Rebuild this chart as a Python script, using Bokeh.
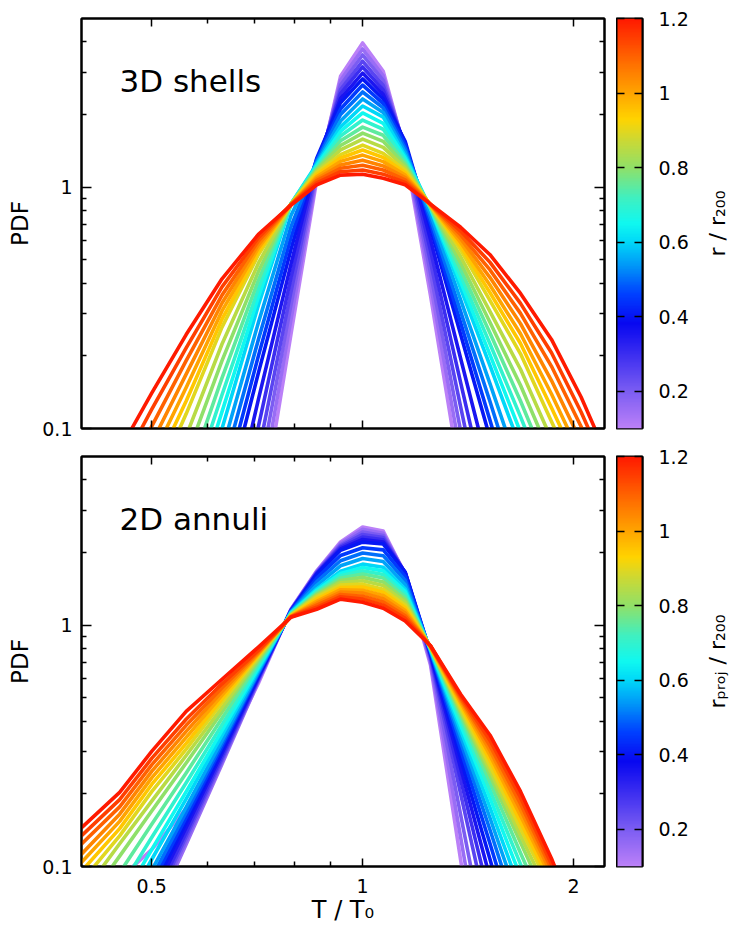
import numpy as np
from bokeh.plotting import figure
from bokeh.layouts import row, column
from bokeh.models import (LogAxis, LinearAxis, FixedTicker, Label, LinearColorMapper, Range1d,
                          CustomJSTickFormatter)
from bokeh.embed import file_html
from bokeh.resources import INLINE

nan = float("nan")
FONT = "DejaVu Sans"

# ---------------- data ----------------
t_over_t0 = [0.39, 0.45, 0.50, 0.56, 0.63, 0.71, 0.79, 0.86, 0.93, 1.00,
             1.07, 1.15, 1.25, 1.38, 1.52, 1.68, 1.86, 2.05, 2.26]
radii = [0.10, 0.15, 0.20, 0.25, 0.30, 0.35, 0.40, 0.45, 0.50, 0.55, 0.60, 0.65,
         0.70, 0.75, 0.80, 0.85, 0.90, 0.95, 1.00, 1.05, 1.10, 1.15, 1.20]

# 3D shells: PDF per radius (columns follow t_over_t0)
pdf3d_r010 = [nan, nan, nan, nan, nan, 0.0372, 0.245, 1.072, 2.88, 3.96, 3.02, 1.41, 0.355, 0.0617, nan, nan, nan, nan, nan]
pdf3d_r015 = [nan, nan, nan, nan, nan, 0.0479, 0.282, 1.109, 2.77, 3.74, 2.89, 1.435, 0.395, 0.0776, nan, nan, nan, nan, nan]
pdf3d_r020 = [nan, nan, nan, nan, nan, 0.0617, 0.324, 1.148, 2.65, 3.53, 2.77, 1.455, 0.44, 0.0977, nan, nan, nan, nan, nan]
pdf3d_r025 = [nan, nan, nan, nan, nan, 0.0794, 0.367, 1.189, 2.54, 3.33, 2.64, 1.479, 0.49, 0.123, 0.0324, nan, nan, nan, nan]
pdf3d_r030 = [nan, nan, nan, nan, 0.0195, 0.102, 0.42, 1.23, 2.44, 3.15, 2.53, 1.50, 0.546, 0.155, 0.0457, nan, nan, nan, nan]
pdf3d_r035 = [nan, nan, nan, nan, 0.0295, 0.132, 0.479, 1.274, 2.33, 2.97, 2.42, 1.524, 0.607, 0.195, 0.0646, nan, nan, nan, nan]
pdf3d_r040 = [nan, nan, nan, nan, 0.0437, 0.17, 0.55, 1.318, 2.24, 2.81, 2.32, 1.55, 0.676, 0.245, 0.0912, nan, nan, nan, nan]
pdf3d_r045 = [nan, nan, nan, nan, 0.0537, 0.20, 0.617, 1.30, 2.11, 2.65, 2.22, 1.496, 0.708, 0.274, 0.108, 0.0403, nan, nan, nan]
pdf3d_r050 = [nan, nan, nan, nan, 0.0661, 0.234, 0.684, 1.282, 2.00, 2.48, 2.13, 1.445, 0.741, 0.305, 0.129, 0.0513, nan, nan, nan]
pdf3d_r055 = [nan, nan, nan, nan, 0.0813, 0.275, 0.762, 1.262, 1.88, 2.32, 2.04, 1.396, 0.776, 0.341, 0.153, 0.0653, nan, nan, nan]
pdf3d_r060 = [nan, nan, nan, 0.0324, 0.100, 0.324, 0.851, 1.245, 1.778, 2.17, 1.95, 1.349, 0.813, 0.38, 0.182, 0.0832, nan, nan, nan]
pdf3d_r065 = [nan, nan, nan, 0.0398, 0.1175, 0.351, 0.851, 1.227, 1.702, 2.03, 1.84, 1.318, 0.818, 0.405, 0.202, 0.0966, nan, nan, nan]
pdf3d_r070 = [nan, nan, nan, 0.049, 0.138, 0.38, 0.851, 1.211, 1.63, 1.897, 1.738, 1.288, 0.822, 0.43, 0.224, 0.112, 0.0537, nan, nan]
pdf3d_r075 = [nan, nan, nan, 0.0603, 0.162, 0.412, 0.851, 1.194, 1.556, 1.774, 1.641, 1.259, 0.827, 0.457, 0.248, 0.130, 0.0638, nan, nan]
pdf3d_r080 = [nan, nan, nan, 0.0759, 0.191, 0.447, 0.851, 1.18, 1.489, 1.675, 1.549, 1.23, 0.832, 0.486, 0.275, 0.151, 0.0759, nan, nan]
pdf3d_r085 = [nan, nan, nan, 0.0933, 0.224, 0.484, 0.851, 1.164, 1.426, 1.581, 1.462, 1.202, 0.837, 0.516, 0.305, 0.176, 0.0902, nan, nan]
pdf3d_r090 = [nan, nan, 0.055, 0.115, 0.263, 0.525, 0.851, 1.148, 1.365, 1.493, 1.38, 1.175, 0.841, 0.55, 0.339, 0.204, 0.107, 0.0575, nan]
pdf3d_r095 = [nan, nan, 0.0646, 0.130, 0.284, 0.542, 0.847, 1.127, 1.321, 1.426, 1.327, 1.148, 0.843, 0.570, 0.365, 0.225, 0.122, 0.0664, nan]
pdf3d_r100 = [nan, nan, 0.075, 0.148, 0.307, 0.56, 0.847, 1.104, 1.279, 1.358, 1.276, 1.122, 0.845, 0.590, 0.392, 0.247, 0.139, 0.0764, nan]
pdf3d_r105 = [nan, nan, 0.0871, 0.168, 0.331, 0.578, 0.847, 1.084, 1.236, 1.294, 1.225, 1.096, 0.847, 0.612, 0.422, 0.272, 0.158, 0.0881, nan]
pdf3d_r110 = [nan, 0.0562, 0.102, 0.191, 0.357, 0.598, 0.847, 1.064, 1.197, 1.233, 1.178, 1.072, 0.847, 0.635, 0.454, 0.30, 0.181, 0.102, 0.0541]
pdf3d_r115 = [nan, 0.0676, 0.120, 0.216, 0.386, 0.618, 0.847, 1.042, 1.159, 1.178, 1.132, 1.047, 0.849, 0.658, 0.488, 0.33, 0.206, 0.117, 0.062]
pdf3d_r120 = [nan, 0.0813, 0.140, 0.245, 0.417, 0.638, 0.841, 1.023, 1.122, 1.132, 1.089, 1.023, 0.851, 0.682, 0.525, 0.363, 0.234, 0.135, 0.0708]

# 2D annuli: PDF per projected radius
pdf2d_r010 = [nan, 0.0891, 0.1175, 0.174, 0.282, 0.575, 1.164, 1.679, 2.213, 2.553, 2.455, 1.629, 0.682, 0.1064, 0.0177, nan, nan, nan, nan]
pdf2d_r015 = [nan, nan, 0.060, 0.1236, 0.266, 0.586, 1.159, 1.669, 2.183, 2.495, 2.404, 1.633, 0.70, 0.132, 0.0263, nan, nan, nan, nan]
pdf2d_r020 = [nan, nan, 0.0631, 0.1285, 0.273, 0.592, 1.156, 1.66, 2.153, 2.432, 2.355, 1.641, 0.718, 0.1637, 0.0392, nan, nan, nan, nan]
pdf2d_r025 = [nan, nan, 0.0664, 0.1334, 0.279, 0.597, 1.153, 1.65, 2.128, 2.377, 2.307, 1.644, 0.735, 0.200, 0.0569, nan, nan, nan, nan]
pdf2d_r030 = [nan, nan, 0.0698, 0.1384, 0.2864, 0.6026, 1.151, 1.641, 2.099, 2.317, 2.259, 1.648, 0.7464, 0.229, 0.0729, nan, nan, nan, nan]
pdf2d_r035 = [nan, nan, 0.0743, 0.1452, 0.295, 0.611, 1.148, 1.632, 2.07, 2.265, 2.213, 1.656, 0.757, 0.256, 0.0897, nan, nan, nan, nan]
pdf2d_r040 = [nan, nan, 0.0794, 0.1524, 0.304, 0.618, 1.143, 1.622, 2.042, 2.208, 2.168, 1.66, 0.766, 0.281, 0.1069, 0.038, nan, nan, nan]
pdf2d_r045 = [nan, nan, 0.0845, 0.1596, 0.3133, 0.6266, 1.14, 1.567, 1.945, 2.094, 2.051, 1.594, 0.773, 0.3048, 0.1242, 0.0475, nan, nan, nan]
pdf2d_r050 = [nan, nan, 0.0899, 0.1675, 0.3228, 0.634, 1.138, 1.514, 1.849, 1.991, 1.941, 1.531, 0.78, 0.3273, 0.1416, 0.0577, nan, nan, nan]
pdf2d_r055 = [nan, nan, 0.0966, 0.1762, 0.3334, 0.6427, 1.132, 1.462, 1.762, 1.888, 1.837, 1.471, 0.785, 0.3475, 0.1585, 0.0684, nan, nan, nan]
pdf2d_r060 = [nan, 0.0622, 0.1069, 0.1905, 0.35, 0.6561, 1.127, 1.413, 1.675, 1.791, 1.738, 1.413, 0.7907, 0.3673, 0.1754, 0.0794, nan, nan, nan]
pdf2d_r065 = [nan, 0.0698, 0.1175, 0.2042, 0.3664, 0.6683, 1.122, 1.393, 1.637, 1.734, 1.679, 1.377, 0.7943, 0.3855, 0.1919, 0.0908, nan, nan, nan]
pdf2d_r070 = [nan, 0.0805, 0.1318, 0.2223, 0.3873, 0.6823, 1.117, 1.377, 1.603, 1.679, 1.622, 1.343, 0.798, 0.4027, 0.2075, 0.1023, 0.0505, nan, nan]
pdf2d_r075 = [nan, 0.0942, 0.1496, 0.2443, 0.4111, 0.6998, 1.112, 1.358, 1.567, 1.629, 1.567, 1.306, 0.8017, 0.4188, 0.2234, 0.1138, 0.0581, nan, nan]
pdf2d_r080 = [0.0617, 0.1104, 0.1698, 0.2685, 0.4365, 0.7178, 1.104, 1.34, 1.531, 1.578, 1.51, 1.274, 0.8054, 0.4335, 0.2382, 0.1256, 0.0662, nan, nan]
pdf2d_r085 = [0.0708, 0.1242, 0.1866, 0.2884, 0.456, 0.7311, 1.099, 1.324, 1.50, 1.528, 1.459, 1.242, 0.809, 0.4446, 0.25, 0.1346, 0.0728, nan, nan]
pdf2d_r090 = [0.0813, 0.134, 0.2042, 0.3062, 0.4786, 0.7447, 1.096, 1.306, 1.466, 1.479, 1.409, 1.211, 0.811, 0.456, 0.2612, 0.1439, 0.0794, nan, nan]
pdf2d_r095 = [0.0902, 0.1435, 0.2188, 0.3236, 0.4955, 0.7534, 1.091, 1.282, 1.432, 1.439, 1.368, 1.18, 0.8128, 0.4677, 0.2754, 0.1531, 0.0841, nan, nan]
pdf2d_r100 = [0.0984, 0.1538, 0.2328, 0.3428, 0.5129, 0.7621, 1.089, 1.256, 1.403, 1.396, 1.327, 1.151, 0.8147, 0.4786, 0.2884, 0.1622, 0.0891, nan, nan]
pdf2d_r105 = [0.1067, 0.1648, 0.2477, 0.3631, 0.5309, 0.7691, 1.086, 1.233, 1.371, 1.358, 1.288, 1.122, 0.8166, 0.4898, 0.302, 0.1718, 0.0933, nan, nan]
pdf2d_r110 = [0.1178, 0.1766, 0.2636, 0.3846, 0.5508, 0.7798, 1.084, 1.211, 1.34, 1.318, 1.247, 1.094, 0.8185, 0.4989, 0.3162, 0.182, 0.0977, nan, nan]
pdf2d_r115 = [0.1276, 0.1892, 0.2805, 0.4074, 0.5715, 0.787, 1.081, 1.186, 1.312, 1.282, 1.211, 1.067, 0.8204, 0.5082, 0.3327, 0.1932, 0.1023, 0.0513, nan]
pdf2d_r120 = [0.138, 0.2028, 0.2999, 0.4395, 0.597, 0.811, 1.079, 1.164, 1.282, 1.245, 1.175, 1.04, 0.8222, 0.5176, 0.35, 0.2046, 0.1079, 0.0537, nan]

curves_3d = [pdf3d_r010, pdf3d_r015, pdf3d_r020, pdf3d_r025, pdf3d_r030, pdf3d_r035,
             pdf3d_r040, pdf3d_r045, pdf3d_r050, pdf3d_r055, pdf3d_r060, pdf3d_r065,
             pdf3d_r070, pdf3d_r075, pdf3d_r080, pdf3d_r085, pdf3d_r090, pdf3d_r095,
             pdf3d_r100, pdf3d_r105, pdf3d_r110, pdf3d_r115, pdf3d_r120]
curves_2d = [pdf2d_r010, pdf2d_r015, pdf2d_r020, pdf2d_r025, pdf2d_r030, pdf2d_r035,
             pdf2d_r040, pdf2d_r045, pdf2d_r050, pdf2d_r055, pdf2d_r060, pdf2d_r065,
             pdf2d_r070, pdf2d_r075, pdf2d_r080, pdf2d_r085, pdf2d_r090, pdf2d_r095,
             pdf2d_r100, pdf2d_r105, pdf2d_r110, pdf2d_r115, pdf2d_r120]

x_tick_values = [0.5, 1.0, 2.0]
x_tick_labels = ["0.5", "1", "2"]
x_minor_values = [0.6, 0.7, 0.8, 0.9]
y_tick_values = [0.1, 1.0]
y_tick_labels = ["0.1", "1"]
y_minor_values = [0.2, 0.3, 0.4, 0.5, 0.6, 0.7, 0.8, 0.9, 2.0, 3.0, 4.0]
cb_tick_values = [0.2, 0.4, 0.6, 0.8, 1.0, 1.2]
cb_tick_labels = ["0.2", "0.4", "0.6", "0.8", "1", "1.2"]
r_low, r_high = 0.1, 1.2

# ---------------- colours (rainbow, purple -> red) ----------------
anchor_vals = [0.10, 0.20, 0.30, 0.38, 0.46, 0.53, 0.60, 0.65, 0.72, 0.80, 0.88, 0.93, 1.00, 1.08, 1.20]
anchor_rgb = [(187, 128, 248), (122, 92, 242), (58, 44, 240), (8, 8, 240), (0, 64, 255),
              (0, 144, 248), (0, 216, 248), (16, 248, 240), (64, 240, 192), (144, 224, 104),
              (208, 216, 48), (255, 212, 0), (255, 165, 0), (255, 112, 0), (255, 26, 0)]
lv = np.linspace(r_low, r_high, 256)
chan = [np.interp(lv, anchor_vals, [c[k] for c in anchor_rgb]) for k in range(3)]
palette = ["#%02x%02x%02x" % (int(round(chan[0][i])), int(round(chan[1][i])), int(round(chan[2][i])))
           for i in range(256)]


def colour_for(r):
    idx = int(round((r - r_low) / (r_high - r_low) * 255))
    return palette[max(0, min(255, idx))]


BLANK = CustomJSTickFormatter(code="return '';")


def style_axis(ax, tick_in, minor_in, show_labels, standoff=10):
    ax.axis_line_color = "black"
    ax.axis_line_width = 2
    ax.major_tick_in = tick_in
    ax.major_tick_out = 0
    ax.minor_tick_in = minor_in
    ax.minor_tick_out = 0
    ax.major_tick_line_color = "black"
    ax.major_tick_line_width = 1.5
    ax.minor_tick_line_color = "black"
    ax.minor_tick_line_width = 1.5
    ax.major_label_text_font = FONT
    ax.major_label_text_color = "black"
    ax.axis_label_text_font = FONT
    ax.axis_label_text_font_style = "normal"
    ax.axis_label_text_color = "black"
    if show_labels:
        ax.major_label_text_font_size = "19px"
        ax.major_label_standoff = standoff
    else:
        ax.formatter = BLANK
        ax.major_label_text_font_size = "1px"
        ax.major_label_standoff = 0


FRAME_W, FRAME_H = 523, 410
LEFT_B, RIGHT_B = 81, 12
TOP1, BOT1 = 18, 14
TOP2, BOT2 = 14, 62


def make_panel(curves, name, top_b, bottom_b, x_labels):
    p = figure(width=LEFT_B + FRAME_W + RIGHT_B, height=top_b + FRAME_H + bottom_b,
               x_axis_type="log", y_axis_type="log",
               x_range=Range1d(0.397, 2.214), y_range=Range1d(0.1, 5.0),
               title=None, toolbar_location=None, output_backend="svg",
               min_border_left=LEFT_B, min_border_right=RIGHT_B,
               min_border_top=top_b, min_border_bottom=bottom_b)
    p.background_fill_color = "white"
    p.border_fill_color = "white"
    p.outline_line_color = "black"
    p.outline_line_width = 2
    p.xgrid.visible = False
    p.ygrid.visible = False

    for r, vals in zip(radii, curves):
        p.line(t_over_t0, vals, line_color=colour_for(r), line_width=3.6, line_join="round")

    xt = FixedTicker(ticks=x_tick_values, minor_ticks=x_minor_values)
    yt = FixedTicker(ticks=y_tick_values, minor_ticks=y_minor_values)

    xa = p.xaxis[0]
    xa.ticker = xt
    if x_labels:
        xa.major_label_overrides = dict(zip(x_tick_values, x_tick_labels))
    style_axis(xa, 8, 5, x_labels, standoff=12)
    if x_labels:
        xa.axis_label = "T / T\u2080"
        xa.axis_label_text_font_size = "24px"
        xa.axis_label_standoff = 0

    ya = p.yaxis[0]
    ya.ticker = yt
    ya.major_label_overrides = dict(zip(y_tick_values, y_tick_labels))
    style_axis(ya, 10, 5, True, standoff=9)
    ya.axis_label = "PDF"
    ya.axis_label_text_font_size = "23px"
    ya.axis_label_standoff = 6

    top_ax = LogAxis(ticker=xt)
    style_axis(top_ax, 8, 5, False)
    p.add_layout(top_ax, "above")
    right_ax = LogAxis(ticker=yt)
    style_axis(right_ax, 10, 5, False)
    p.add_layout(right_ax, "right")

    p.add_layout(Label(x=38, y=330, x_units="screen", y_units="screen", text=name,
                       text_font=FONT, text_font_size="31px", text_color="black",
                       text_baseline="bottom", text_align="left"))
    return p


CB_W, CB_RIGHT = 26, 50
LAB_W = 48


def make_colorbar(top_b, bottom_b):
    cb = figure(width=CB_W + CB_RIGHT, height=top_b + FRAME_H + bottom_b,
                x_range=Range1d(0, 1), y_range=Range1d(r_low, r_high),
                x_axis_location=None, y_axis_location="right",
                title=None, toolbar_location=None, output_backend="svg",
                min_border_left=0, min_border_right=CB_RIGHT,
                min_border_top=top_b, min_border_bottom=bottom_b)
    cb.background_fill_color = "white"
    cb.border_fill_color = "white"
    cb.outline_line_color = "black"
    cb.outline_line_width = 2
    cb.xgrid.visible = False
    cb.ygrid.visible = False
    mapper = LinearColorMapper(palette=palette, low=r_low, high=r_high)
    grad = np.linspace(r_low, r_high, 256).reshape(-1, 1)
    cb.image(image=[grad], x=0, y=r_low, dw=1, dh=r_high - r_low, color_mapper=mapper)

    ct = FixedTicker(ticks=cb_tick_values, minor_ticks=[])
    ra = cb.yaxis[0]
    ra.ticker = ct
    ra.major_label_overrides = dict(zip(cb_tick_values, cb_tick_labels))
    style_axis(ra, 8, 0, True, standoff=16)
    la = LinearAxis(ticker=ct)
    style_axis(la, 8, 0, False)
    cb.add_layout(la, "left")
    return cb


def make_cb_title(label_text, top_b, bottom_b):
    # narrow strip whose left-axis title carries the colour-bar label (reads bottom-to-top)
    lf = figure(width=LAB_W, height=top_b + FRAME_H + bottom_b,
                x_range=Range1d(0, 1), y_range=Range1d(0, 1),
                x_axis_location=None, y_axis_location="left",
                title=None, toolbar_location=None, output_backend="svg",
                min_border_left=LAB_W - 1, min_border_right=0,
                min_border_top=top_b, min_border_bottom=bottom_b)
    lf.outline_line_color = None
    lf.background_fill_color = "white"
    lf.border_fill_color = "white"
    lf.xgrid.visible = False
    lf.ygrid.visible = False
    ax = lf.yaxis[0]
    ax.ticker = FixedTicker(ticks=[], minor_ticks=[])
    ax.axis_line_color = None
    ax.major_tick_line_color = None
    ax.minor_tick_line_color = None
    ax.formatter = BLANK
    ax.major_label_text_font_size = "1px"
    ax.major_label_standoff = 0
    ax.axis_label = label_text
    ax.axis_label_text_font = FONT
    ax.axis_label_text_font_style = "normal"
    ax.axis_label_text_font_size = "22px"
    ax.axis_label_text_color = "black"
    ax.axis_label_standoff = 10
    return lf


p1 = make_panel(curves_3d, "3D shells", TOP1, BOT1, False)
c1 = make_colorbar(TOP1, BOT1)
t1 = make_cb_title("r / r\u2082\u2080\u2080", TOP1, BOT1)
p2 = make_panel(curves_2d, "2D annuli", TOP2, BOT2, True)
c2 = make_colorbar(TOP2, BOT2)
t2 = make_cb_title("r\u209a\u1d63\u2092\u2c7c / r\u2082\u2080\u2080", TOP2, BOT2)

layout = column(row(p1, c1, t1), row(p2, c2, t2))

with open("out.html", "w") as f:
    f.write(file_html(layout, INLINE))
